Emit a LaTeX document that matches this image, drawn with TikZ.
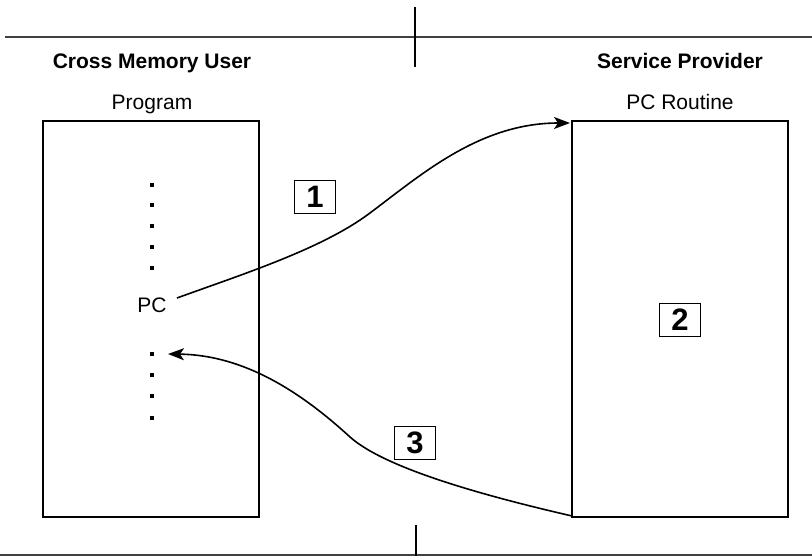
\documentclass[tikz,border=0pt]{standalone}
\usepackage{fontspec}
\setmainfont{Liberation Sans}
\usetikzlibrary{arrows.meta}
\begin{document}
\begin{tikzpicture}[x=1pt,y=-1pt,
  rule/.style={line width=1.7pt,draw=black!75},
  divider/.style={line width=1.3pt},
  panel/.style={draw,line width=1.6pt,minimum width=216pt,minimum height=396pt,inner sep=0pt},
  heading/.style={font=\fontsize{21}{24}\selectfont\bfseries,inner sep=0pt,anchor=base},
  label/.style={font=\fontsize{21}{24}\selectfont,inner sep=0pt,anchor=base},
  numbox/.style={draw,line width=1.5pt,minimum width=41pt,minimum height=33pt,inner sep=0pt,font=\fontsize{31}{33}\selectfont\bfseries},
  dotmark/.style={fill=black,minimum size=3.4pt,inner sep=0pt},
  flow/.style={line width=1.6pt,-{Stealth[length=16pt,width=12pt,inset=4pt]}}]
\useasboundingbox (0,0) rectangle (812,556);
% separators
\coordinate (tl) at (5,37); \coordinate (tr) at (812,37);
\coordinate (bl) at (0,555); \coordinate (br) at (812,555);
\coordinate (vt1) at (415,7); \coordinate (vt2) at (415,67);
\coordinate (vb1) at (416,525); \coordinate (vb2) at (416,556);
\draw[rule] (tl) -- (tr);
\draw[rule] (bl) -- (br);
\draw[divider] (vt1) -- (vt2);
\draw[divider] (vb1) -- (vb2);
% headings
\node[heading] (hl) at (152,69) {Cross Memory User};
\node[heading] (hr) at (680,69) {Service Provider};
\node[label] (pl) at (152,110) {Program};
\node[label] (pr) at (680,110) {PC Routine};
% panels
\node[panel] (user) at (151,319) {};
\node[panel] (prov) at (680,319) {};
% dots
\foreach \y [count=\i] in {185,205,226,247,268} \node[dotmark] (da\i) at (152,\y) {};
\foreach \y [count=\i] in {354,375,396,418} \node[dotmark] (db\i) at (152,\y) {};
\node[label] (pc) at (152,313) {PC};
% number boxes
\node[numbox] (n1) at (315,197) {1};
\node[numbox] (n2) at (680,320) {2};
\node[numbox] (n3) at (415,443) {3};
% connectors
\coordinate (s1) at (177,298);
\coordinate (m1) at (370,213);
\coordinate (e1) at (570,123);
\draw[flow] (s1) .. controls (243,274) and (322,249) .. (m1)
  .. controls (422,174) and (480,123) .. (e1);
\coordinate (s3) at (572,516);
\coordinate (m3) at (350,437);
\coordinate (e3) at (168,354);
\draw[flow] (s3) .. controls (494,498) and (387,470) .. (m3)
  .. controls (302,393) and (245,355) .. (e3);
\end{tikzpicture}
\end{document}
